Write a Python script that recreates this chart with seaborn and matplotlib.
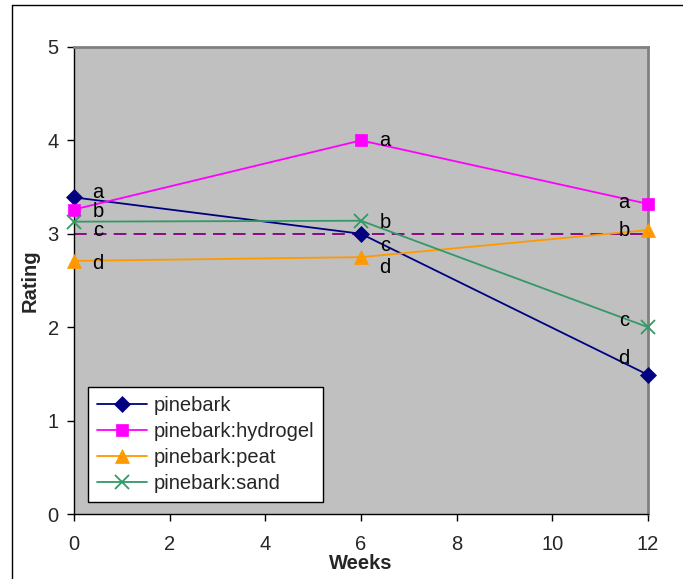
import matplotlib
matplotlib.use("Agg")
import matplotlib.pyplot as plt
from matplotlib.lines import Line2D
import seaborn as sns
import pandas as pd

weeks = [0, 6, 12]
pinebark = [3.39, 3.0, 1.49]
pinebark_hydrogel = [3.26, 4.0, 3.32]
pinebark_peat = [2.71, 2.75, 3.04]
pinebark_sand = [3.13, 3.14, 2.0]
reference_rating = 3

series_names = ["pinebark", "pinebark:hydrogel", "pinebark:peat", "pinebark:sand"]
series_values = [pinebark, pinebark_hydrogel, pinebark_peat, pinebark_sand]
letters = [["a", "c", "d"], ["b", "a", "a"], ["d", "d", "b"], ["c", "b", "c"]]

colors = ["#000080", "#FF00FF", "#FF9900", "#339966"]
markers = ["D", "s", "^", "x"]
msizes = [8, 9, 10, 10]

# vertical nudges (rating units) that keep stacked letters apart
nudges = [[0.05, -0.12, 0.17], [-0.02, 0.0, 0.01], [-0.03, -0.11, 0.0], [-0.09, -0.02, 0.07]]

sns.set_theme(style="white")
plt.rcParams["font.family"] = ["Liberation Sans", "DejaVu Sans"]

rows = []
for name, vals in zip(series_names, series_values):
    for w, v in zip(weeks, vals):
        rows.append({"Weeks": w, "Rating": v, "series": name})
df = pd.DataFrame(rows)

fig = plt.figure(figsize=(6.83, 5.79), dpi=100)
ax = fig.add_axes([74 / 683, 65 / 579, 574 / 683, 467 / 579])
ax.set_facecolor("#C0C0C0")

# dashed reference line at rating 3
ax.plot([weeks[0], weeks[-1]], [reference_rating, reference_rating],
        color="#800080", lw=1.3, dashes=(7, 4), zorder=1)

for name, c, m, ms in zip(series_names, colors, markers, msizes):
    sub = df[df["series"] == name]
    sns.lineplot(data=sub, x="Weeks", y="Rating", ax=ax, color=c, marker=m,
                 markersize=ms, markeredgecolor=c, markeredgewidth=1.3 if m == "x" else 0.5,
                 lw=1.3, label=name, zorder=3, clip_on=False)

# significance letters beside each point
x_shift = {0: 0.5, 6: 0.5, 12: -0.5}
for vals, lets, nud in zip(series_values, letters, nudges):
    for w, v, l, n in zip(weeks, vals, lets, nud):
        ax.text(w + x_shift[w], v + n, l, fontsize=14.5, ha="center", va="center",
                color="black", zorder=4)

ax.set_xlim(0, 12)
ax.set_ylim(0, 5)
ax.set_xticks([0, 2, 4, 6, 8, 10, 12])
ax.set_yticks([0, 1, 2, 3, 4, 5])
ax.tick_params(axis="both", which="major", direction="out", length=5, width=1,
               color="black", labelsize=14.5, bottom=True, left=True)
ax.tick_params(axis="x", pad=10)
ax.tick_params(axis="y", pad=6)
ax.set_xlabel("Weeks", fontsize=14.5, fontweight="bold", labelpad=0)
ax.set_ylabel("Rating", fontsize=14.5, fontweight="bold", labelpad=6)

for side in ["top", "right"]:
    ax.spines[side].set_color("#808080")
    ax.spines[side].set_linewidth(2)
for side in ["left", "bottom"]:
    ax.spines[side].set_color("black")
    ax.spines[side].set_linewidth(1)

leg = ax.legend(loc="lower left", bbox_to_anchor=(14 / 574, 12 / 467), fontsize=14.5,
                frameon=True, fancybox=False, framealpha=1, edgecolor="black",
                borderpad=0.45, labelspacing=0.35, handlelength=2.5, handletextpad=0.3,
                borderaxespad=0)
leg.get_frame().set_linewidth(1)
leg.set_zorder(5)

# outer chart border (top and left edges)
fig.add_artist(Line2D([12 / 683, 12 / 683], [0, 1 - 5 / 579], color="black", lw=1))
fig.add_artist(Line2D([12 / 683, 1], [1 - 5 / 579, 1 - 5 / 579], color="black", lw=1))

fig.savefig("out.png", dpi=100)
